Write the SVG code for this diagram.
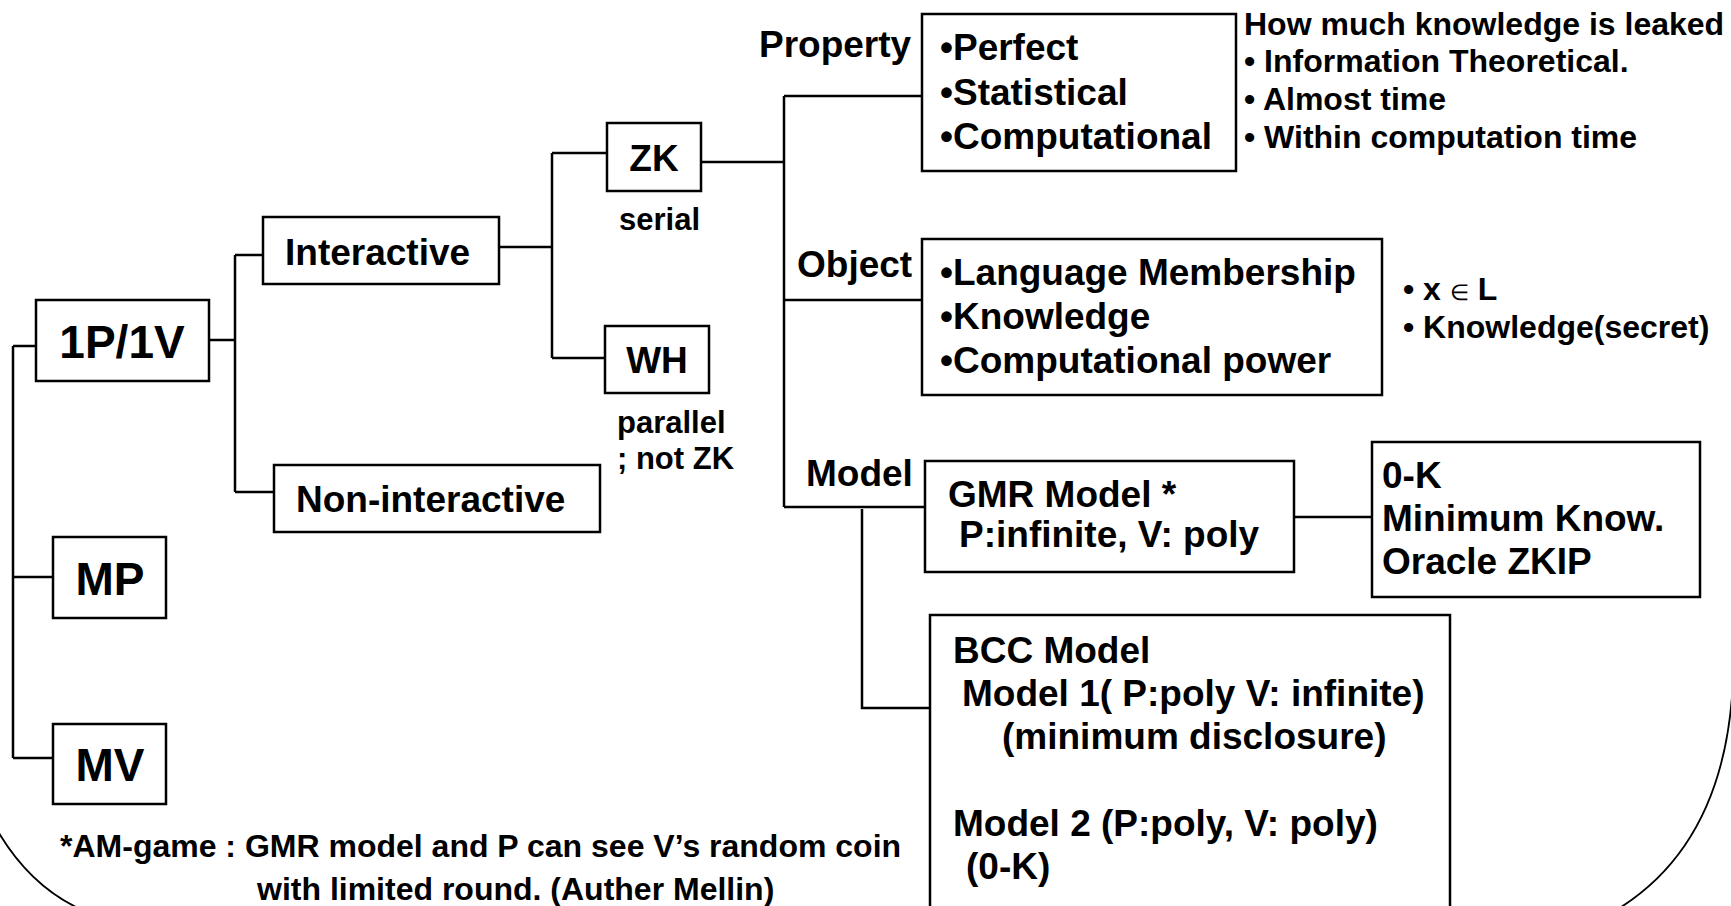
<svg xmlns="http://www.w3.org/2000/svg" width="1731" height="906" viewBox="0 0 1731 906">
<style>
text{font-family:"Liberation Sans",Arial,sans-serif;font-weight:bold;fill:#000}
.box{fill:#fff;stroke:#000;stroke-width:2.5}
.ln{stroke:#000;stroke-width:2.5;fill:none}
.big{font-size:46px}
.mid{font-size:37px}
.sm{font-size:31px}
.rt{font-size:32px}
.arc{stroke:#000;stroke-width:1.8;fill:none}
</style>
<rect width="1731" height="906" fill="#fff"/>
<g id="frame">
<path class="arc" d="M -4,828 Q 28,884 78,908"/>
<path class="arc" d="M 1733,680 Q 1726,842 1618,909"/>
</g>
<g id="connectors">
<path class="ln" d="M13,346 H36 M13,346 V758 M13,577 H53 M13,758 H53"/>
<path class="ln" d="M209,340 H235 M235,255 V492 M235,255 H263 M235,492 H274"/>
<path class="ln" d="M499,247 H552 M552,153 V358 M552,153 H607 M552,358 H605"/>
<path class="ln" d="M701,162 H784 M784,96 V507 M784,96 H922 M784,300 H922 M784,507 H925"/>
<path class="ln" d="M862,509 V708 H930"/>
<path class="ln" d="M1294,517 H1372"/>
</g>
<g id="n1p1v"><rect class="box" x="36" y="300" width="173" height="81"/><text class="big" x="122" y="358" text-anchor="middle">1P/1V</text></g>
<g id="nMP"><rect class="box" x="53" y="537" width="113" height="81"/><text class="big" x="110" y="595" text-anchor="middle">MP</text></g>
<g id="nMV"><rect class="box" x="53" y="724" width="113" height="80"/><text class="big" x="110" y="781" text-anchor="middle">MV</text></g>
<g id="nInteractive"><rect class="box" x="263" y="217" width="236" height="67"/><text class="mid" x="285" y="265">Interactive</text></g>
<g id="nNonInteractive"><rect class="box" x="274" y="465" width="326" height="67"/><text class="mid" x="296" y="512">Non-interactive</text></g>
<g id="nZK"><rect class="box" x="607" y="123" width="94" height="68"/><text class="mid" x="654" y="171" text-anchor="middle">ZK</text><text class="sm" x="619" y="230">serial</text></g>
<g id="nWH"><rect class="box" x="605" y="326" width="104" height="67"/><text class="mid" x="657" y="373" text-anchor="middle">WH</text><text class="sm" x="617" y="433">parallel</text><text class="sm" x="617" y="469">; not ZK</text></g>
<g id="nProperty">
<text class="mid" x="759" y="57">Property</text>
<rect class="box" x="922" y="14" width="314" height="157"/>
<text class="mid" x="940" y="60">•Perfect</text>
<text class="mid" x="940" y="105">•Statistical</text>
<text class="mid" x="940" y="149">•Computational</text>
<text class="rt" x="1244" y="35">How much knowledge is leaked</text>
<text class="rt" x="1244" y="72">• Information Theoretical.</text>
<text class="rt" x="1244" y="110">• Almost time</text>
<text class="rt" x="1244" y="148">• Within computation time</text>
</g>
<g id="nObject">
<text class="mid" x="797" y="277">Object</text>
<rect class="box" x="922" y="239" width="460" height="156"/>
<text class="mid" x="940" y="285">•Language Membership</text>
<text class="mid" x="940" y="329">•Knowledge</text>
<text class="mid" x="940" y="373">•Computational power</text>
<text class="rt" x="1403" y="300">• x <tspan font-weight="normal" font-size="22">∈</tspan> L</text>
<text class="rt" x="1403" y="338">• Knowledge(secret)</text>
</g>
<g id="nModel"><text class="mid" x="806" y="486">Model</text></g>
<g id="nGMR"><rect class="box" x="925" y="461" width="369" height="111"/><text class="mid" x="948" y="507">GMR Model *</text><text class="mid" x="959" y="547">P:infinite, V: poly</text></g>
<g id="n0K"><rect class="box" x="1372" y="442" width="328" height="155"/><text class="mid" x="1382" y="488">0-K</text><text class="mid" x="1382" y="531">Minimum Know.</text><text class="mid" x="1382" y="574">Oracle ZKIP</text></g>
<g id="nBCC"><rect class="box" x="930" y="615" width="520" height="310"/>
<text class="mid" x="953" y="663">BCC Model</text>
<text class="mid" x="962" y="706">Model 1( P:poly V: infinite)</text>
<text class="mid" x="1002" y="749">(minimum disclosure)</text>
<text class="mid" x="953" y="836">Model 2 (P:poly, V: poly)</text>
<text class="mid" x="966" y="879">(0-K)</text>
</g>
<g id="footnote">
<text font-size="32" x="60" y="857">*AM-game : GMR model and P can see V’s random coin</text>
<text font-size="32" x="257" y="900">with limited round. (Auther Mellin)</text>
</g>
</svg>
